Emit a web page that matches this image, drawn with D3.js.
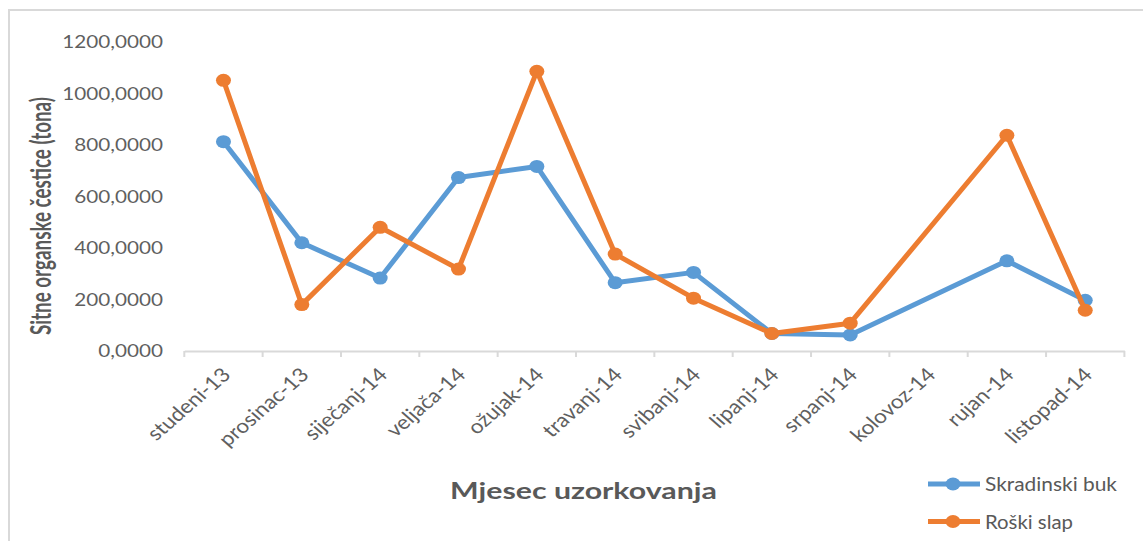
<!DOCTYPE html>
<html>
<head>
<meta charset="utf-8">
<script src="https://cdn.jsdelivr.net/npm/d3@7"></script>
<style>
html,body{margin:0;padding:0;background:#fff;}
svg{display:block;}
text{font-family:Lato,"Open Sans",sans-serif;}
</style>
</head>
<body>
<svg id="chart" width="1143" height="541"></svg>
<script>
const months = ["studeni-13","prosinac-13","siječanj-14","veljača-14","ožujak-14","travanj-14","svibanj-14","lipanj-14","srpanj-14","kolovoz-14","rujan-14","listopad-14"];
const skradinskiBuk = [812, 420, 283, 673, 716, 265, 305, 68, 62, null, 350, 197];
const roskiSlap = [1050, 180, 480, 318, 1085, 376, 205, 68, 108, null, 837, 158];
const seriesNames = ["Skradinski buk", "Roški slap"];
const seriesColors = ["#5B9BD5", "#ED7D31"];
const yTicks = [0, 200, 400, 600, 800, 1000, 1200];
const yTitle = "Sitne organske čestice (tona)";
const xTitle = "Mjesec uzorkovanja";

const SX = 1.15; // horizontal stretch of the reference
const svg = d3.select("#chart");

// outer border (left and top visible)
svg.append("path").attr("d","M9,541 L9,10 L1143,10")
  .attr("fill","none").attr("stroke","#d9d9d9").attr("stroke-width",2);

const x = d3.scaleBand().domain(months).range([184.3, 1124.4]);
const y = d3.scaleLinear().domain([0, 1200]).range([351, 41.7]);

// x axis
const xAxis = d3.axisBottom(x).tickSize(0).tickFormat("");
const gx = svg.append("g").attr("transform","translate(0,351)").call(xAxis);
gx.select(".domain").attr("stroke","#d9d9d9").attr("stroke-width",2);
const bounds = months.map(m => x(m)).concat([x.range()[1]]);
gx.selectAll("line.bound").data(bounds).join("line")
  .attr("class","bound")
  .attr("x1", d => d).attr("x2", d => d)
  .attr("y1", 0).attr("y2", 6)
  .attr("stroke","#d9d9d9").attr("stroke-width",2);

// x tick labels (rotated)
svg.append("g").selectAll("text").data(months).join("text")
  .attr("transform", d => `translate(${x(d) + x.bandwidth()/2 - 3},${366}) scale(${SX},1) rotate(-45)`)
  .attr("text-anchor","end")
  .attr("dy","0.72em")
  .attr("font-size", 19.5)
  .attr("fill","#5f5f5f")
  .text(d => d);

// y tick labels
const fmt = v => d3.format(".4f")(v).replace(".", ",");
svg.append("g").selectAll("text").data(yTicks).join("text")
  .attr("transform", d => `translate(163,${y(d)}) scale(${SX},1)`)
  .attr("text-anchor","end")
  .attr("dy","0.36em")
  .attr("font-size", 18)
  .attr("fill","#5f5f5f")
  .text(d => fmt(d));

// axis titles
svg.append("text")
  .attr("transform", `translate(51,216) scale(${SX},1) rotate(-90)`)
  .attr("text-anchor","middle")
  .attr("font-size", 25)
  .attr("font-weight", 700)
  .attr("fill","#595959")
  .attr("textLength", 238)
  .attr("lengthAdjust","spacingAndGlyphs")
  .text(yTitle);

svg.append("text")
  .attr("transform", `translate(583.5,499) scale(${SX},1)`)
  .attr("text-anchor","middle")
  .attr("font-size", 23)
  .attr("font-weight", 700)
  .attr("fill","#595959")
  .attr("textLength", 232)
  .attr("lengthAdjust","spacingAndGlyphs")
  .text(xTitle);

// series
const series = [skradinskiBuk, roskiSlap];
const cx = i => x(months[i]) + x.bandwidth()/2;
const line = d3.line()
  .defined(d => d.v !== null)
  .x(d => cx(d.i))
  .y(d => y(d.v));

series.forEach((vals, s) => {
  const pts = vals.map((v, i) => ({v, i})).filter(d => d.v !== null);
  const g = svg.append("g");
  g.append("path").datum(pts)
    .attr("d", line)
    .attr("fill","none")
    .attr("stroke", seriesColors[s])
    .attr("stroke-width", 5)
    .attr("stroke-linejoin","round");
  g.selectAll("ellipse").data(pts).join("ellipse")
    .attr("cx", d => cx(d.i))
    .attr("cy", d => y(d.v))
    .attr("rx", 7.5).attr("ry", 6.5)
    .attr("fill", seriesColors[s]);
});

// legend
const legY = [484, 521.5];
const legLen = [132, 88];
seriesNames.forEach((name, s) => {
  const g = svg.append("g");
  g.append("line").attr("x1", 928).attr("x2", 980)
    .attr("y1", legY[s]).attr("y2", legY[s])
    .attr("stroke", seriesColors[s]).attr("stroke-width", 5);
  g.append("ellipse").attr("cx", 953).attr("cy", legY[s])
    .attr("rx", 7.5).attr("ry", 6.5).attr("fill", seriesColors[s]);
  g.append("text")
    .attr("transform", `translate(985,${legY[s] + 7}) scale(${SX},1)`)
    .attr("font-size", 20)
    .attr("fill","#595959")
    .attr("textLength", legLen[s] / SX)
    .attr("lengthAdjust","spacingAndGlyphs")
    .text(name);
});
</script>
</body>
</html>
